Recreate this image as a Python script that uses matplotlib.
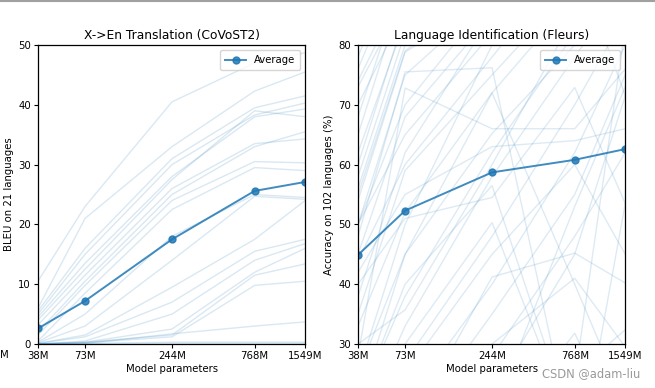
"""Масштабирование: перевод X->En и определение языка"""
import matplotlib.pyplot as plt
from matplotlib.lines import Line2D

params = [38, 73, 244, 768, 1549]
param_labels = ['38M', '73M', '244M', '768M', '1549M']

bleu_avg = [2.6, 7.2, 17.5, 25.6, 27.1]
lid_avg = [44.9, 52.3, 58.7, 60.8, 62.6]

# BLEU по отдельным языкам (38M, 73M, 244M, 768M, 1549M)
bleu_langs = [
    [10.5, 23.0, 40.5, 47.0, 48.7],
    [6.0, 21.0, 33.0, 42.3, 45.5],
    [5.5, 16.0, 31.0, 39.5, 41.5],
    [5.0, 15.0, 30.0, 38.3, 40.3],
    [4.5, 13.5, 28.0, 38.0, 39.3],
    [4.0, 12.5, 27.5, 39.0, 38.0],
    [3.2, 11.5, 26.0, 33.5, 34.3],
    [2.0, 10.5, 25.0, 33.0, 35.5],
    [1.5, 9.8, 24.0, 30.5, 30.3],
    [0.5, 8.5, 22.5, 29.5, 29.0],
    [0.3, 5.0, 18.0, 25.0, 24.5],
    [0.2, 3.0, 14.0, 24.7, 24.2],
    [0.1, 1.5, 9.5, 17.5, 24.0],
    [0.1, 1.2, 7.0, 15.5, 17.5],
    [0.0, 0.5, 5.0, 14.0, 16.8],
    [0.0, 0.3, 2.5, 12.0, 16.0],
    [0.0, 0.3, 1.5, 11.5, 13.4],
    [0.0, 0.2, 1.2, 9.8, 10.5],
    [0.0, 0.1, 1.7, 3.0, 3.7],
    [0.0, 0.1, 0.3, 0.3, 0.3],
    [0.0, 0.0, 0.1, 0.1, 0.1],
]

# точность определения языка (многие выходят за пределы 30..80)
lid_langs = [
    [76, 95, 110, 115, 118],
    [74, 90, 105, 110, 112],
    [73, 88, 100, 104, 106],
    [70, 86, 98, 100, 101],
    [62, 84, 96, 99, 100],
    [58, 82, 93, 96, 97],
    [56, 80, 91, 95, 96],
    [55, 79, 90, 93, 94],
    [54, 78.8, 88, 92, 93],
    [48, 75.5, 76.2, 12, 5],
    [28, 72.8, 66, 66, 76],
    [40, 51, 54.5, 72.9, 53.5],
    [20, 40, 56.5, 15, 0],
    [10, 30, 50.3, 15, 0],
    [5, 15, 41.2, 45.2, 40.2],
    [0, 10, 30, 41, 29.5],
    [0, 5, 14, 31.8, 14],
    [0, 8, 18, 53, 73],
    [-10, 0, 10, 24, 83],
    [-20, -10, 0, 7, 53.5],
    [-10, 0, 10, 25, 32.4],
    [30, 35.7, 60, 85, 95],
    [25, 45, 65.2, 80, 90],
    [44, 60, 78, 95, 100],
    [35, 59, 75, 90, 95],
    [45, 68, 85, 95, 100],
    [50, 75, 88, 96, 100],
    [65, 90, 100, 105, 105],
    [68, 92, 105, 108, 110],
    [60, 85, 97, 100, 102],
    [33, 52, 72, 88, 95],
    [20, 38, 62, 82, 92],
    [15, 33, 58, 78, 90],
    [10, 27, 48, 70, 85],
    [5, 20, 40, 62, 80],
    [0, 15, 35, 55, 75],
    [42, 55, 63, 64, 66],
    [50, 65, 82, 92, 96],
    [38, 62, 85, 100, 110],
    [25, 50, 80, 95, 100],
    [20, 45, 72, 40, 20],
    [80, 95, 100, 100, 100],
    [78, 98, 103, 105, 106],
    [-5, 12, 28, 48, 62],
    [15, 25, 45, 60, 45],
    [-10, 2, 22, 45, 71.5],
    [50, 70, 88, 95, 71.5],
]

color = '#1f77b4'
fs = 7.3

fig = plt.figure(figsize=(6.55, 3.88), dpi=100)
ax1 = fig.add_axes([0.058, 0.1134, 0.408, 0.7706])
ax2 = fig.add_axes([0.5466, 0.1134, 0.408, 0.7706])

panels = [
    (ax1, bleu_langs, bleu_avg, 'X->En Translation (CoVoST2)',
     'BLEU on 21 languages', (0, 50), 0.17),
    (ax2, lid_langs, lid_avg, 'Language Identification (Fleurs)',
     'Accuracy on 102 languages (%)', (30, 80), 0.15),
]

for ax, langs, avg, title, ylabel, ylim, alpha in panels:
    for row in langs:
        ax.plot(params, row, color=color, alpha=alpha, linewidth=1.0)
    ax.plot(params, avg, color=color, alpha=0.85, linewidth=1.4,
            marker='o', markersize=5, label='Average')
    ax.set_xscale('log')
    ax.set_xlim(params[0], params[-1])
    ax.set_ylim(*ylim)
    ax.set_xticks(params)
    ax.set_xticklabels(param_labels)
    ax.minorticks_off()
    ax.tick_params(labelsize=fs, length=3, width=0.8, pad=2)
    ax.set_title(title, fontsize=8.8, pad=4)
    ax.set_xlabel('Model parameters', fontsize=fs, labelpad=2)
    ax.set_ylabel(ylabel, fontsize=fs, labelpad=3)
    for s in ax.spines.values():
        s.set_linewidth(0.9)
    ax.legend(loc='upper right', fontsize=fs, borderpad=0.5,
              handlelength=2.0)

# остаток подписи соседнего графика и водяной знак
fig.text(0.0, 0.084, 'M', fontsize=fs, ha='left', va='center')
fig.text(0.978, 0.038, 'CSDN @adam-liu', fontsize=8.3, ha='right',
         va='center', color='#9a9a9a')
fig.add_artist(Line2D([0, 1], [0.998, 0.998], color='#a0a0a0',
                      linewidth=1.5, transform=fig.transFigure))

plt.savefig('out.png', dpi=100)
plt.close()
